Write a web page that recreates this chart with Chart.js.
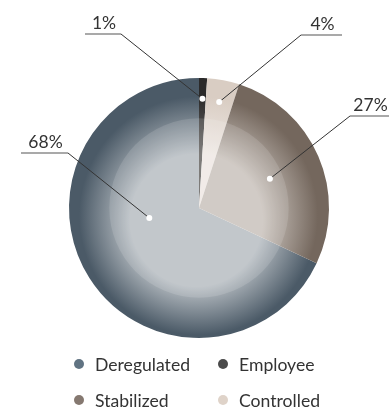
<!DOCTYPE html>
<html lang="en">
<head>
    <meta charset="UTF-8">
    <title>Pie</title>
    <script src="https://cdn.jsdelivr.net/npm/chart.js"></script>
    <style>
        body { margin: 0; background: #fff; font-family: Lato, sans-serif; }
        .wrap { position: relative; width: 389px; height: 411px; }
        #legend {
            position: absolute; left: 74px; top: 353px;
            display: grid; grid-template-columns: 144px auto; row-gap: 14px;
            font-size: 17.6px; color: #333;
        }
        #legend div { display: flex; align-items: center; height: 22px; }
        #legend span { display: inline-block; width: 10px; height: 10px; border-radius: 50%; margin-right: 11px; }
    </style>
</head>
<body>
    <div class="wrap">
        <canvas id="pie" width="389" height="411"></canvas>
        <div id="legend"></div>
    </div>
    <script>
        // data (drawing order, clockwise)
        const categories = ['Deregulated', 'Employee', 'Controlled', 'Stabilized'];
        const values = [68, 1, 4, 27];
        const legendOrder = ['Deregulated', 'Employee', 'Stabilized', 'Controlled'];

        // colours: outer / inner / legend dot
        const outerColors = ['#4b5a67', '#2b2a2a', '#d9cdc3', '#74675d'];
        const innerColors = ['#b9bfc4', '#6a6866', '#efe9e5', '#cbc4be'];
        const dotColors = ['#607382', '#4a4a4a', '#dfd3c9', '#857870'];

        // label placement: where the dot sits in the slice, and the elbow / line ends
        const dotAngleFrac = [0.586, 0.5, 0.5, 0.51];
        const dotRadiusFrac = [0.39, 0.84, 0.83, 0.59];
        const labelBoxes = [
            { ex: 68, ey: 153, x1: 21, x2: 68 },
            { ex: 121, ey: 34, x1: 85, x2: 121 },
            { ex: 301, ey: 35, x1: 301, x2: 342 },
            { ex: 350, ey: 116, x1: 350, x2: 389 }
        ];

        function sliceGradient(ctx) {
            const chart = ctx.chart;
            const a = chart.chartArea;
            if (!a) return outerColors[ctx.dataIndex];
            const cx = (a.left + a.right) / 2;
            const cy = (a.top + a.bottom) / 2;
            const r = Math.min(a.right - a.left, a.bottom - a.top) / 2;
            const g = chart.ctx.createRadialGradient(cx - r * 0.04, cy + r * 0.14, 0, cx, cy + r * 0.05, r * 1.02);
            const i = ctx.dataIndex;
            g.addColorStop(0, innerColors[i]);
            g.addColorStop(0.5, innerColors[i]);
            g.addColorStop(0.9, outerColors[i]);
            g.addColorStop(1, outerColors[i]);
            return g;
        }

        // soft inner disc + leader labels
        const decor = {
            id: 'decor',
            afterDatasetsDraw(chart) {
                const c = chart.ctx;
                const p = chart.getDatasetMeta(0).data[0];
                c.save();
                c.beginPath();
                c.arc(p.x, p.y, p.outerRadius * 0.69, 0, Math.PI * 2);
                c.fillStyle = 'rgba(255,255,255,0.13)';
                c.fill();
                c.restore();
            },
            afterDraw(chart) {
                const c = chart.ctx;
                const arcs = chart.getDatasetMeta(0).data;
                c.save();
                arcs.forEach((arc, i) => {
                    const ang = arc.startAngle + (arc.endAngle - arc.startAngle) * dotAngleFrac[i];
                    const rr = arc.outerRadius * dotRadiusFrac[i];
                    const px = arc.x + Math.cos(ang) * rr;
                    const py = arc.y + Math.sin(ang) * rr;
                    const b = labelBoxes[i];
                    c.strokeStyle = '#333';
                    c.lineWidth = 1;
                    c.beginPath();
                    c.moveTo(px, py);
                    c.lineTo(b.ex, b.ey);
                    c.stroke();
                    c.strokeStyle = '#8c8c8c';
                    c.lineWidth = 1.5;
                    c.beginPath();
                    c.moveTo(b.x1, b.ey);
                    c.lineTo(b.x2, b.ey);
                    c.stroke();
                    c.fillStyle = '#fff';
                    c.beginPath();
                    c.arc(px, py, 3, 0, Math.PI * 2);
                    c.fill();
                    c.fillStyle = '#333';
                    c.font = '17.5px Lato';
                    c.textAlign = 'center';
                    c.textBaseline = 'alphabetic';
                    c.fillText(values[i] + '%', (b.x1 + b.x2) / 2 + 1, b.ey - 5);
                });
                c.restore();
            }
        };

        new Chart(document.getElementById('pie'), {
            type: 'pie',
            data: {
                labels: categories,
                datasets: [{
                    data: values,
                    backgroundColor: sliceGradient,
                    borderWidth: 0
                }]
            },
            options: {
                responsive: false,
                animation: false,
                rotation: 115.2,
                layout: { padding: { left: 69, right: 60, top: 78, bottom: 73 } },
                plugins: {
                    legend: { display: false },
                    tooltip: { enabled: false }
                }
            },
            plugins: [decor]
        });

        // legend in the reference's 2x2 order
        const legend = document.getElementById('legend');
        legendOrder.forEach(name => {
            const i = categories.indexOf(name);
            const item = document.createElement('div');
            item.innerHTML = '<span style="background:' + dotColors[i] + '"></span>' + name;
            legend.appendChild(item);
        });
    </script>
</body>
</html>
